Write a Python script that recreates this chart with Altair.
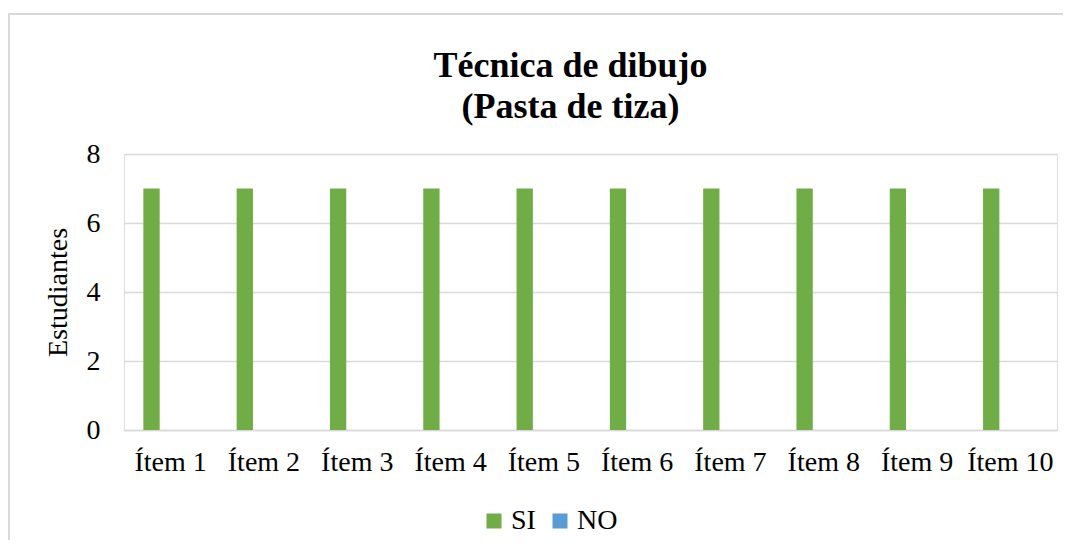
import altair as alt
import pandas as pd

items = ["Ítem 1", "Ítem 2", "Ítem 3", "Ítem 4", "Ítem 5",
         "Ítem 6", "Ítem 7", "Ítem 8", "Ítem 9", "Ítem 10"]
series = ["SI", "NO"]
si_values = [7, 7, 7, 7, 7, 7, 7, 7, 7, 7]
no_values = [0, 0, 0, 0, 0, 0, 0, 0, 0, 0]
colors = ["#70AD47", "#5B9BD5"]
y_ticks = [0, 2, 4, 6, 8]

rows = []
for i, it in enumerate(items):
    rows.append({"item": it, "serie": "SI", "value": si_values[i]})
    rows.append({"item": it, "serie": "NO", "value": no_values[i]})
df = pd.DataFrame(rows)

FONT = "Liberation Serif"

bars = alt.Chart(df).mark_bar().encode(
    x=alt.X("item:N", sort=items,
            scale=alt.Scale(paddingInner=0.415, paddingOuter=0.2075),
            axis=alt.Axis(title=None, labelAngle=0, labelFontSize=28,
                          labelFont=FONT, labelColor="#000000",
                          labelPadding=18, ticks=False, domain=True,
                          domainColor="#D9D9D9", domainWidth=1.5,
                          grid=False)),
    xOffset=alt.XOffset("serie:N", sort=series,
                        scale=alt.Scale(paddingInner=0.574, paddingOuter=0)),
    y=alt.Y("value:Q", stack=None,
            scale=alt.Scale(domain=[0, 8]),
            axis=alt.Axis(title="Estudiantes", values=y_ticks,
                          titleFont=FONT, titleFontSize=28,
                          titleFontWeight="normal", titleColor="#000000",
                          titlePadding=14,
                          labelFont=FONT, labelFontSize=28,
                          labelColor="#000000", labelPadding=24,
                          ticks=False, domain=False,
                          grid=True, gridColor="#D9D9D9", gridWidth=1.5)),
    color=alt.Color("serie:N", sort=series,
                    scale=alt.Scale(domain=series, range=colors),
                    legend=alt.Legend(title=None, orient="none",
                                      direction="horizontal",
                                      legendX=356, legendY=353,
                                      symbolType="square", symbolSize=225,
                                      symbolStrokeWidth=0,
                                      labelFont=FONT, labelFontSize=28,
                                      labelColor="#000000", labelOffset=3,
                                      columnPadding=10)),
)

border = alt.Chart(pd.DataFrame({"a": [0]})).mark_rect(
    fill=None, stroke="#D9D9D9", strokeWidth=2
).encode(
    x=alt.value(-115), x2=alt.value(1300),
    y=alt.value(-140), y2=alt.value(700),
)

chart = alt.layer(border, bars).properties(
    width=933, height=276,
    padding={"left": 116, "top": 146, "right": 6, "bottom": 110},
    autosize=alt.AutoSizeParams(type="none"),
    title=alt.TitleParams(
        text=["Técnica de dibujo", "(Pasta de tiza)"],
        font=FONT, fontSize=36, fontWeight="bold", color="#000000",
        anchor="middle", lineHeight=41, offset=-113, dx=-20,
    ),
).configure_view(stroke=None).configure(
    background="#FFFFFF", font=FONT
).configure_legend(labelFont=FONT).configure_axis(labelFont=FONT, titleFont=FONT)

chart.save("out.html", embed_options={"renderer": "svg", "actions": False})
